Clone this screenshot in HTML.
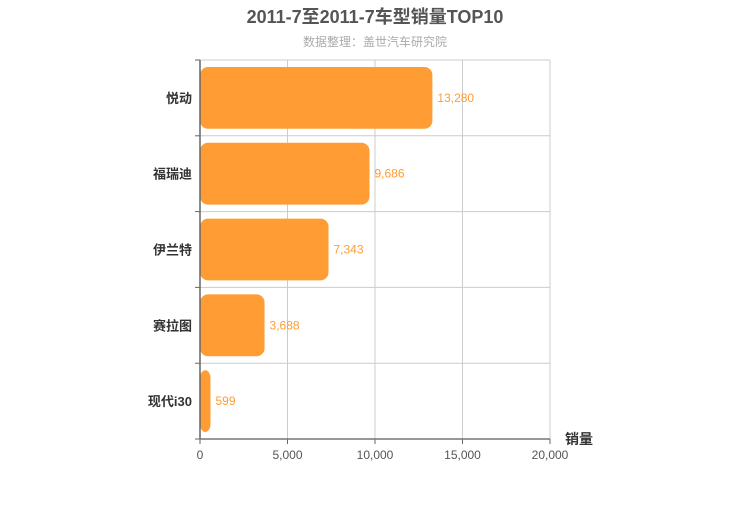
<!DOCTYPE html>
<html><head><meta charset="utf-8"><style>
body{margin:0;background:#fff;}
svg{font-family:"Liberation Sans","Noto Sans CJK SC",sans-serif;}
</style></head><body>
<svg id="chart" width="750" height="500" xmlns="http://www.w3.org/2000/svg">
<text x="375" y="23" text-anchor="middle" font-size="18" font-weight="bold" fill="#555">2011-7至2011-7车型销量TOP10</text>
<text x="375" y="46" text-anchor="middle" font-size="12" fill="#aaa">数据整理：盖世汽车研究院</text>
<g id="grid"></g>
<g id="bars"></g>
<g id="axes"></g>
<text x="565" y="444" font-size="14" font-weight="bold" fill="#333">销量</text>
</svg>
<script>
const categories = ["悦动","福瑞迪","伊兰特","赛拉图","现代i30"];
const values = [13280, 9686, 7343, 3688, 599];
const xTicks = [0, 5000, 10000, 15000, 20000];
const xTickLabels = ["0","5,000","10,000","15,000","20,000"];
const ns="http://www.w3.org/2000/svg";
const X0=200,X1=550,Y0=60,Y1=439,XMAX=20000;
const xs=v=>X0+v/XMAX*(X1-X0);
const band=(Y1-Y0)/categories.length;
function mk(tag,attrs,parent,text){const e=document.createElementNS(ns,tag);for(const k in attrs)e.setAttribute(k,attrs[k]);if(text!==undefined)e.textContent=text;document.getElementById(parent).appendChild(e);return e;}
xTicks.forEach((t,i)=>{
  const g=mk('line',{x1:xs(t),x2:xs(t),y1:Y0,y2:Y1,stroke:'#ccc','stroke-width':1},'grid');
  
  
  const l=mk('text',{x:xs(t),y:Y1+20,'text-anchor':'middle','font-size':12,fill:'#555'},'axes',xTickLabels[i]);
  
  
  const tk=mk('line',{x1:xs(t),x2:xs(t),y1:Y1,y2:Y1+5,stroke:'#666'},'axes');
  
  
});
for(let i=0;i<=categories.length;i++){
  const y=Y0+i*band;
  const g=mk('line',{x1:X0,x2:X1,y1:y,y2:y,stroke:'#ccc'},'grid');
  
  
  const tk=mk('line',{x1:X0-5,x2:X0,y1:y,y2:y,stroke:'#666'},'axes');
  
  
}
categories.forEach((c,i)=>{
  const yT=Y0+i*band+7, h=band-14;
  const r=mk('rect',{x:X0,y:yT,width:Math.max(0,xs(values[i])-X0),height:h,rx:8,ry:8,fill:'#ff9c33'},'bars');
  
  
  const v=mk('text',{x:xs(values[i])+5,y:yT+h/2+4,'font-size':12,fill:'#ff9c33'},'bars',values[i].toLocaleString('en-US'));
  
  
  const l=mk('text',{x:X0-8,y:yT+h/2+5,'text-anchor':'end','font-size':13,'font-weight':'bold',fill:'#333'},'axes',c);
  
  
});
const ya=mk('line',{x1:X0,x2:X0,y1:Y0,y2:Y1,stroke:'#666','stroke-width':1.5},'axes');


const xa=mk('line',{x1:X0,x2:X1,y1:Y1,y2:Y1,stroke:'#777','stroke-width':1.5},'axes');


</script>
</body></html>
